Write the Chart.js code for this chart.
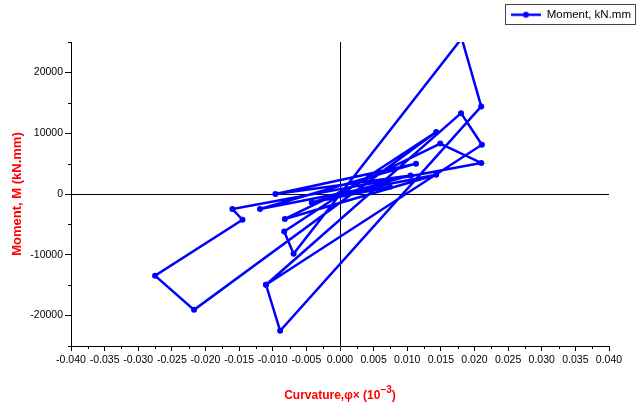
<!DOCTYPE html>
<html>
<head>
<meta charset="utf-8">
<script src="https://cdn.jsdelivr.net/npm/chart.js@4.4.1/dist/chart.umd.min.js"></script>
<style>
html,body{margin:0;padding:0;background:#fff;}
#wrap{width:640px;height:410px;}
</style>
</head>
<body>
<div id="wrap"><canvas id="c" width="640" height="410"></canvas></div>
<script>
// ---- data ----
const seriesName = 'Moment, kN.mm';
const curvature = [0, 0.0074, -0.0042, 0.0105, -0.0096, 0.0113, -0.0119, 0.0143, -0.0082, 0.0149,
  0.0210, -0.0160, -0.0145, -0.0275, -0.0217, 0.0143, -0.0083, -0.0069, 0.0181, 0.0210,
  -0.0089, -0.0110, 0.0180, 0.0211, -0.0110];
const moment = [0, 1200, -1400, 3060, 0, 4990, -2470, 3170, -4100, 8300,
  5100, -2470, -4230, -13450, -19050, 10200, -6150, -9830, 25600, 14400,
  -22500, -14930, 13300, 8100, -14930];
const xTickValues = [-0.040, -0.035, -0.030, -0.025, -0.020, -0.015, -0.010, -0.005, 0.000,
  0.005, 0.010, 0.015, 0.020, 0.025, 0.030, 0.035, 0.040];
const xMinorValues = [-0.0375, -0.0325, -0.0275, -0.0225, -0.0175, -0.0125, -0.0075, -0.0025,
  0.0025, 0.0075, 0.0125, 0.0175, 0.0225, 0.0275, 0.0325, 0.0375];
const yTickValues = [-20000, -10000, 0, 10000, 20000];
const yMinorValues = [-25000, -15000, -5000, 5000, 15000, 25000];
const xTitleMain = 'Curvature,\u03c6\u00d7 (10';
const xTitleSup = '\u22123';
const xTitleEnd = ')';
const yTitle = 'Moment, M (kN.mm)';

const BLUE = '#0000ff';
const RED = '#ff0000';
const TICKFONT = "'Liberation Sans', Arial, sans-serif";

// legend symbol: line with a dot
const sym = document.createElement('canvas');
sym.width = 30; sym.height = 8;
(function(){
  const g = sym.getContext('2d');
  g.strokeStyle = BLUE; g.lineWidth = 2.5;
  g.beginPath(); g.moveTo(0, 4); g.lineTo(30, 4); g.stroke();
  g.fillStyle = BLUE; g.beginPath(); g.arc(15, 4, 3, 0, Math.PI * 2); g.fill();
})();

const extras = {
  id: 'extras',
  beforeUpdate(chart) {
    const lg = chart.legend;
    if (lg && !lg._patched) {
      const orig = lg.fit;
      lg.fit = function() { orig.call(this); this.height = 42; };
      lg._patched = true;
    }
  },
  afterDraw(chart) {
    const ctx = chart.ctx;
    const xs = chart.scales.x, ys = chart.scales.y;
    ctx.save();
    ctx.strokeStyle = '#000'; ctx.lineWidth = 1;
    ctx.beginPath();
    xMinorValues.forEach(v => {
      const px = Math.round(xs.getPixelForValue(v)) + 0.5;
      ctx.moveTo(px, xs.top); ctx.lineTo(px, xs.top + 3);
    });
    yMinorValues.forEach(v => {
      const py = Math.round(ys.getPixelForValue(v)) + 0.5;
      ctx.moveTo(ys.right - 3, py); ctx.lineTo(ys.right, py);
    });
    ctx.stroke();
    // x axis title with superscript
    ctx.fillStyle = RED;
    ctx.textBaseline = 'alphabetic';
    const fMain = "bold 12px 'Liberation Sans', Arial, sans-serif";
    const fSup = "bold 10px 'Liberation Sans', Arial, sans-serif";
    ctx.font = fMain;
    const w1 = ctx.measureText(xTitleMain).width;
    const w3 = ctx.measureText(xTitleEnd).width;
    ctx.font = fSup;
    const w2 = ctx.measureText(xTitleSup).width;
    const total = w1 + w2 + w3;
    const cx = (chart.chartArea.left + chart.chartArea.right) / 2;
    let x0 = cx - total / 2;
    const base = 399;
    ctx.textAlign = 'left';
    ctx.font = fMain; ctx.fillText(xTitleMain, x0, base);
    ctx.font = fSup; ctx.fillText(xTitleSup, x0 + w1, base - 6);
    ctx.font = fMain; ctx.fillText(xTitleEnd, x0 + w1 + w2, base);
    // legend frame
    const lg = chart.legend;
    if (lg && lg.legendHitBoxes && lg.legendHitBoxes.length) {
      const hb = lg.legendHitBoxes[0];
      ctx.strokeStyle = '#444'; ctx.lineWidth = 1;
      ctx.strokeRect(Math.round(hb.left) - 5.5, Math.round(hb.top) - 4.5, Math.round(hb.width) + 10, Math.round(hb.height) + 8);
    }
    ctx.restore();
  }
};

new Chart(document.getElementById('c'), {
  type: 'scatter',
  data: {
    datasets: [{
      label: seriesName,
      data: curvature.map((x, i) => ({x: x, y: moment[i]})),
      showLine: true,
      borderColor: BLUE,
      backgroundColor: BLUE,
      borderWidth: 2.5,
      pointRadius: 3,
      pointHoverRadius: 3,
      pointBorderWidth: 0,
      tension: 0
    }]
  },
  options: {
    responsive: false,
    animation: false,
    events: [],
    layout: {padding: {left: 0, right: 0, top: 0, bottom: 0}},
    plugins: {
      tooltip: {enabled: false},
      legend: {
        display: true,
        position: 'top',
        align: 'end',
        labels: {
          usePointStyle: true,
          pointStyle: sym,
          pointStyleWidth: 30,
          padding: 9,
          color: '#000',
          font: {family: "'Liberation Sans', Arial, sans-serif", size: 11.5}
        }
      }
    },
    scales: {
      x: {
        type: 'linear',
        min: -0.04, max: 0.04,
        afterBuildTicks(scale) { scale.ticks = xTickValues.map(v => ({value: v})); },
        afterFit(scale) { scale.height = 64; scale.paddingRight = 31; },
        border: {display: true, color: '#000', width: 1},
        grid: {
          drawOnChartArea: true,
          drawTicks: true,
          tickLength: 5,
          tickColor: '#000',
          color: ctx => (ctx.tick && ctx.tick.value === 0) ? '#000' : 'rgba(0,0,0,0)',
          lineWidth: 1
        },
        ticks: {
          autoSkip: false, maxRotation: 0, minRotation: 0, padding: 3,
          color: '#000',
          font: {family: TICKFONT, size: 10.5},
          callback: v => v.toFixed(3)
        },
        title: {display: false}
      },
      y: {
        type: 'linear',
        min: -25000, max: 25000,
        afterBuildTicks(scale) { scale.ticks = yTickValues.map(v => ({value: v})); },
        afterFit(scale) { scale.width = 71; },
        border: {display: true, color: '#000', width: 1},
        grid: {
          drawOnChartArea: true,
          drawTicks: true,
          tickLength: 6,
          tickColor: '#000',
          color: ctx => (ctx.tick && ctx.tick.value === 0) ? '#000' : 'rgba(0,0,0,0)',
          lineWidth: 1
        },
        ticks: {
          padding: 2,
          color: '#000',
          font: {family: TICKFONT, size: 10.5},
          callback: v => String(v)
        },
        title: {
          display: true,
          text: yTitle,
          color: RED,
          font: {family: "'Liberation Sans', Arial, sans-serif", size: 13, weight: 'bold'},
          padding: {top: 10, bottom: 0}
        }
      }
    }
  },
  plugins: [extras]
});
</script>
</body>
</html>
